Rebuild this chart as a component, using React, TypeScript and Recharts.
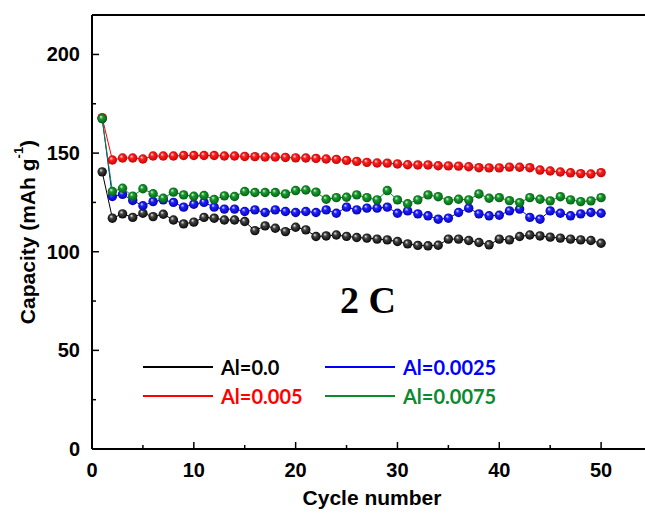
import React from 'react';
import { LineChart, Line, XAxis, YAxis, ReferenceLine, Legend } from 'recharts';

const cycles = [1, 2, 3, 4, 5, 6, 7, 8, 9, 10, 11, 12, 13, 14, 15, 16, 17, 18, 19, 20, 21, 22, 23, 24, 25, 26, 27, 28, 29, 30, 31, 32, 33, 34, 35, 36, 37, 38, 39, 40, 41, 42, 43, 44, 45, 46, 47, 48, 49, 50];

const al00 = [140.5, 117, 119.2, 117.4, 119.5, 117.8, 119, 116.1, 114.1, 115, 117.4, 117, 116.1, 116.1, 115.3, 110.7, 113.1, 111.9, 110.2, 112.4, 111.1, 107.7, 108, 108.5, 107.8, 107.2, 106.9, 106.4, 106.0, 105.2, 104.0, 103.2, 103.0, 103.3, 106.4, 106.4, 105.7, 104.7, 103.5, 106.4, 106.0, 107.7, 108.5, 108.0, 107.4, 106.9, 106.4, 106.0, 105.7, 104.3];

const al0025 = [167.5, 128, 129.1, 126, 123.3, 125.4, 126.3, 125, 122.6, 124.1, 125, 122.6, 121.6, 121.6, 120.4, 121.2, 119.9, 121.2, 120.4, 119.9, 120.4, 119.9, 121.2, 119.5, 122.6, 121.2, 122.1, 122.1, 122.6, 119.5, 120.7, 119.2, 118.2, 116.5, 117, 119.9, 122.1, 119.2, 118.2, 118.5, 120.7, 121.6, 117.4, 116.5, 120.7, 119.5, 118.2, 119.2, 119.9, 119.5];

const al005 = [168, 146.5, 147.5, 147.5, 147, 148.5, 148.5, 148.5, 148.8, 148.8, 148.8, 148.8, 148.5, 148.5, 148.3, 148.2, 148, 148, 147.8, 147.6, 147.5, 147.3, 147, 146.8, 146.3, 145.8, 145.3, 145, 144.9, 144.5, 144.1, 144.0, 144.0, 143.6, 143.5, 143.4, 143.1, 142.6, 142.5, 142.5, 142.9, 142.8, 142.6, 141.4, 140.9, 140.4, 140.0, 139.6, 139.4, 140.1];

const al0075 = [167.5, 130.5, 132.2, 128.2, 131.9, 129.4, 127.1, 130.2, 128.8, 128.1, 128.5, 126.5, 128.3, 128, 130.5, 130, 130, 130, 129.3, 131, 131.3, 130.2, 126.6, 127.4, 127.6, 128.8, 127.4, 126.3, 131, 126.3, 124.3, 126.3, 128.8, 127.9, 125.9, 126.6, 126.3, 129.3, 127.1, 127.4, 125.9, 124.9, 127.4, 126.6, 125.8, 127.9, 126.3, 125.4, 125.8, 127.4];

const seriesNames = ['Al=0.0', 'Al=0.0025', 'Al=0.005', 'Al=0.0075'];
const xTicks = [0, 5, 10, 15, 20, 25, 30, 35, 40, 45, 50, 55];
const yTicks = [0, 25, 50, 75, 100, 125, 150, 175, 200];
const rateLabel = '2 C';

const data = cycles.map((c, i) => ({
  cycle: c,
  al00: al00[i],
  al0025: al0025[i],
  al005: al005[i],
  al0075: al0075[i],
}));

const AXIS_FONT = '"Liberation Sans", Arial, sans-serif';

const makeDot = (id: string) => (props: any) => {
  const { cx, cy, index } = props;
  if (cx == null || cy == null) return <g key={index} />;
  return <circle key={index} cx={cx} cy={cy} r={4.7} fill={`url(#${id})`} />;
};

const XTick = (props: any) => {
  const { x, y, payload } = props;
  const v = payload.value;
  const major = v % 10 === 0;
  return (
    <g>
      <line x1={x} x2={x} y1={y} y2={y - (major ? 7 : 4)} stroke="#000" strokeWidth={1.5} />
      {major && v <= 50 && (
        <text x={x} y={y + 28} textAnchor="middle" fontFamily={AXIS_FONT} fontWeight="bold" fontSize={20} fill="#000">
          {v}
        </text>
      )}
    </g>
  );
};

const YTick = (props: any) => {
  const { x, y, payload } = props;
  const v = payload.value;
  const major = v % 50 === 0;
  return (
    <g>
      <line x1={x} x2={x + (major ? 7 : 4)} y1={y} y2={y} stroke="#000" strokeWidth={1.5} />
      {major && (
        <text x={x - 12} y={y + 7} textAnchor="end" fontFamily={AXIS_FONT} fontWeight="bold" fontSize={20} fill="#000">
          {v}
        </text>
      )}
    </g>
  );
};

const YLabel = (props: any) => {
  const vb = props.viewBox || { x: 22, y: 15, width: 70, height: 434 };
  const cx = vb.x + 5;
  const cy = vb.y + vb.height / 2;
  return (
    <text
      transform={`rotate(-90 ${cx} ${cy})`}
      x={cx}
      y={cy}
      textAnchor="middle"
      dominantBaseline="central"
      fontFamily={AXIS_FONT}
      fontWeight="bold"
      fontSize={21}
      fill="#000"
    >
      Capacity (mAh g<tspan dy={-9} fontSize={13}>-1</tspan>
      <tspan dy={9}>)</tspan>
    </text>
  );
};

const XLabel = (props: any) => {
  const vb = props.viewBox || { x: 92, y: 449, width: 560, height: 60 };
  return (
    <text x={vb.x + vb.width / 2} y={vb.y + 56} textAnchor="middle" fontFamily={AXIS_FONT} fontWeight="bold" fontSize={21} fill="#000">
      Cycle number
    </text>
  );
};

const renderLegend = (props: any) => {
  const payload = props.payload || [];
  return (
    <div style={{ display: 'grid', gridTemplateColumns: '182px 210px' }}>
      {payload.map((p: any, i: number) => (
        <div key={i} style={{ display: 'flex', alignItems: 'center', height: 29 }}>
          <svg width={70} height={4} style={{ marginRight: 8, display: 'block' }}>
            <line x1={0} x2={70} y1={2} y2={2} stroke={p.color} strokeWidth={2.2} />
          </svg>
          <span style={{ fontFamily: 'Lato, "Open Sans", sans-serif', fontWeight: 'bold', fontSize: 20, color: p.color, whiteSpace: 'nowrap' }}>
            {p.value}
          </span>
        </div>
      ))}
    </div>
  );
};

export default function App() {
  return (
    <div style={{ position: 'fixed', left: 0, top: 0, width: 645, height: 525, overflow: 'hidden', background: '#fff' }}>
      <LineChart width={660} height={525} data={data} margin={{ top: 15, right: 8, left: 22, bottom: 16 }}>
        <defs>
          <radialGradient id="gBlack" cx="50%" cy="50%" r="55%" fx="35%" fy="30%">
            <stop offset="0%" stopColor="#eeeeee" />
            <stop offset="35%" stopColor="#444" />
            <stop offset="100%" stopColor="#000" />
          </radialGradient>
          <radialGradient id="gBlue" cx="50%" cy="50%" r="55%" fx="35%" fy="30%">
            <stop offset="0%" stopColor="#e8e8ff" />
            <stop offset="35%" stopColor="#2020ff" />
            <stop offset="100%" stopColor="#0000a8" />
          </radialGradient>
          <radialGradient id="gRed" cx="50%" cy="50%" r="55%" fx="35%" fy="30%">
            <stop offset="0%" stopColor="#ffe8e8" />
            <stop offset="35%" stopColor="#ff2020" />
            <stop offset="100%" stopColor="#c00000" />
          </radialGradient>
          <radialGradient id="gGreen" cx="50%" cy="50%" r="55%" fx="35%" fy="30%">
            <stop offset="0%" stopColor="#e0f8e0" />
            <stop offset="35%" stopColor="#1a9a2e" />
            <stop offset="100%" stopColor="#005a12" />
          </radialGradient>
        </defs>
        <XAxis
          dataKey="cycle"
          type="number"
          domain={[0, 55]}
          ticks={xTicks}
          interval={0}
          height={60}
          tickSize={0}
          tickMargin={0}
          tickLine={false}
          axisLine={{ stroke: '#000', strokeWidth: 2 }}
          tick={<XTick />}
          label={<XLabel />}
          allowDataOverflow
        />
        <YAxis
          type="number"
          domain={[0, 220]}
          ticks={yTicks}
          interval={0}
          width={70}
          tickSize={0}
          tickMargin={0}
          tickLine={false}
          axisLine={{ stroke: '#000', strokeWidth: 2 }}
          tick={<YTick />}
          label={<YLabel />}
          allowDataOverflow
        />
        <ReferenceLine y={220} stroke="#000" strokeWidth={2} />
        <Legend
          layout="horizontal"
          verticalAlign="middle"
          align="center"
          wrapperStyle={{ left: 143, top: 352, width: 420, height: 60 }}
          content={renderLegend}
        />
        <Line dataKey="al00" name={seriesNames[0]} stroke="#000000" strokeWidth={1} dot={makeDot('gBlack')} isAnimationActive={false} />
        <Line dataKey="al0025" name={seriesNames[1]} stroke="#0000ff" strokeWidth={1} dot={makeDot('gBlue')} isAnimationActive={false} />
        <Line dataKey="al005" name={seriesNames[2]} stroke="#ff0000" strokeWidth={1} dot={makeDot('gRed')} isAnimationActive={false} />
        <Line dataKey="al0075" name={seriesNames[3]} stroke="#0b8a2e" strokeWidth={1} dot={makeDot('gGreen')} isAnimationActive={false} />
      </LineChart>
      <div
        style={{
          position: 'absolute',
          left: 308,
          top: 280,
          width: 120,
          textAlign: 'center',
          fontFamily: '"Liberation Serif", "Times New Roman", serif',
          fontWeight: 'bold',
          fontSize: 38,
          lineHeight: '40px',
          color: '#000',
        }}
      >
        {rateLabel}
      </div>
    </div>
  );
}
